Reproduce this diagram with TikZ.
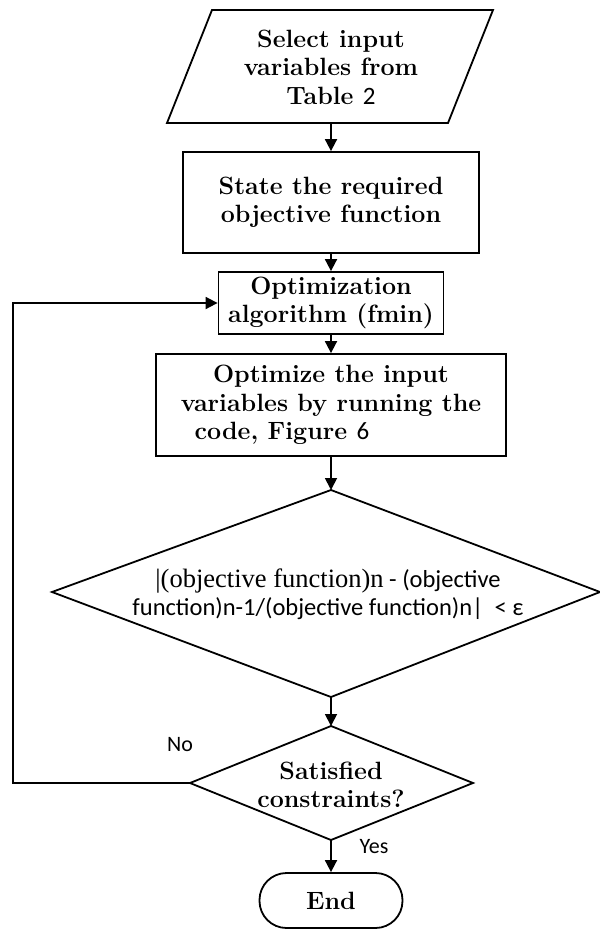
\documentclass[tikz,border=0pt]{standalone}
\usepackage{fontspec}
\newfontfamily\cbf{Carlito}
\newfontfamily\lsf{Liberation Serif}
\usetikzlibrary{arrows.meta,shapes.geometric}
\begin{document}
\begin{tikzpicture}[x=1pt,y=-1pt,line width=1.8pt,
  lbl/.style={font=\fontsize{25}{28.5}\selectfont\bfseries,align=center,text=black},
  box/.style={draw,rectangle,inner sep=0pt},
  arr/.style={-{Triangle[length=12pt,width=12pt]}},
  ln/.style={font=\cbf\fontsize{22}{26}\selectfont}]
\useasboundingbox (0,0) rectangle (600,930);
% parallelogram
\coordinate (ptl) at (212,10);
\coordinate (ptr) at (493,10);
\coordinate (pbr) at (448,123);
\coordinate (pbl) at (167,123);
\draw[line join=miter] (ptl) -- (ptr) -- (pbr) -- (pbl) -- cycle;
\node[lbl] (sel) at (331,67) {Select input\\variables from\\Table {\cbf\mdseries 2}};
\coordinate (selb) at (331,123);
% boxes
\node[box,minimum width=296pt,minimum height=101pt,lbl] (st) at (331,202.5) {State the required\\objective function};
\node[box,minimum width=225pt,minimum height=62pt,lbl] (opt) at (331,303) {Optimization\\algorithm (fmin)};
\node[box,minimum width=350pt,minimum height=102pt,lbl] (run) at (331,405) {Optimize the input\\variables by running the\\code, Figure {\cbf\mdseries 6}\makebox[98pt]{}};
% diamond 1
\coordinate (d1t) at (331,490);
\coordinate (d1r) at (600,592);
\coordinate (d1b) at (331,697);
\coordinate (d1l) at (52,592);
\draw[line join=miter] (d1t) -- (d1r) -- (d1b) -- (d1l) -- cycle;
\node[align=center,font=\cbf\fontsize{24.5}{28}\selectfont] (cond) at (328,594)
  {{\lsf\fontsize{26.5}{28}\selectfont |(objective function)n} - (objective\\function)n-1/(objective function)n| \ {<}\ ε};
% diamond 2
\coordinate (d2t) at (331,726);
\coordinate (d2r) at (473,783);
\coordinate (d2b) at (331,840);
\coordinate (d2l) at (190,783);
\draw[line join=miter] (d2t) -- (d2r) -- (d2b) -- (d2l) -- cycle;
\node[lbl] (sat) at (331,785) {Satisfied\\constraints?};
% end
\node[draw,rectangle,rounded corners=27pt,minimum width=143pt,minimum height=55pt,lbl] (end) at (331,900.5) {End};
% connectors
\draw[arr] (selb) -- (st.north);
\draw[arr] (st.south) -- (opt.north);
\draw[arr] (opt.south) -- (run.north);
\draw[arr] (run.south) -- (d1t);
\draw[arr] (d1b) -- (d2t);
\draw[arr] (d2b) -- (end.north);
\coordinate (lp) at (13,783);
\draw[arr] (d2l) -- (lp) |- (opt.west);
\node[ln] (no) at (180,745) {No};
\node[ln] (yes) at (374,847) {Yes};
\end{tikzpicture}
\end{document}
